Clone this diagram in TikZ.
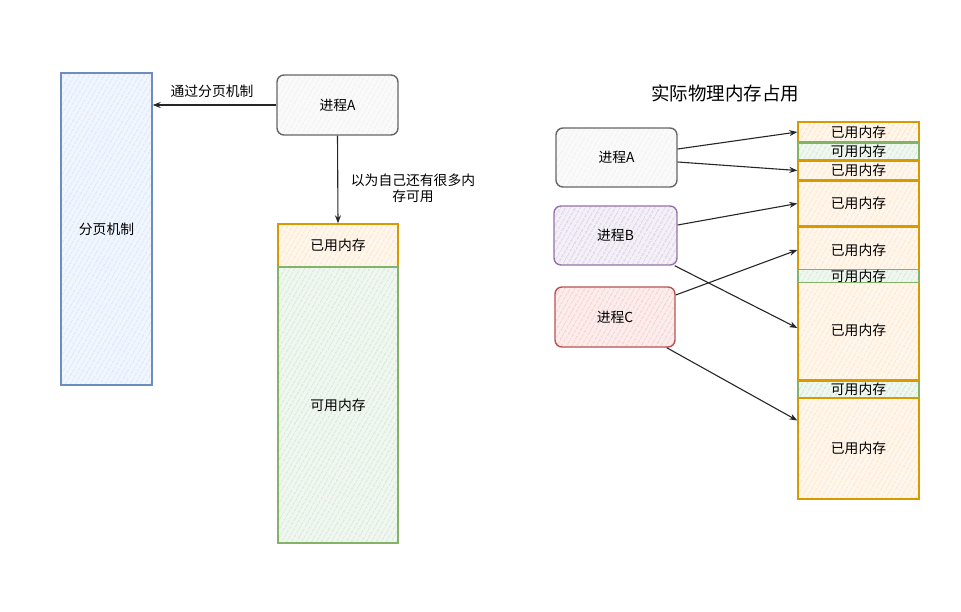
\documentclass[tikz,border=0pt]{standalone}
\usepackage{fontspec}
\setmainfont{Noto Sans CJK SC}
\usetikzlibrary{arrows.meta,patterns.meta}
\definecolor{grayF}{HTML}{EEEEEE}\definecolor{grayS}{HTML}{666666}
\definecolor{blueF}{HTML}{D0E2FB}\definecolor{blueS}{HTML}{6C8EBF}
\definecolor{orgF}{HTML}{FFE0C0}\definecolor{orgS}{HTML}{D79B00}
\definecolor{grnF}{HTML}{CDE4CC}\definecolor{grnS}{HTML}{82B366}
\definecolor{purF}{HTML}{DCCDE3}\definecolor{purS}{HTML}{9673A6}
\definecolor{redF}{HTML}{F6C4C2}\definecolor{redS}{HTML}{B85450}
\tikzset{
  x=1pt,y=-1pt,
  box/.style n args={4}{draw=#2,line width=1.4pt,minimum width=#3,minimum height=#4,inner sep=0pt,
    preaction={fill=#1!30},
    preaction={pattern={Lines[angle=60,distance=4pt,line width=1pt]},pattern color=#1},
    font=\fontsize{13.8}{15}\selectfont},
  proc/.style={rounded corners=7pt},
  arr/.style={-{Stealth[length=8pt,width=6pt]},line width=1.1pt,draw=black!85},
  lbl/.style={font=\fontsize{13.8}{16}\selectfont,align=center,inner sep=0pt},
}
\begin{document}
\begin{tikzpicture}
\path[use as bounding box] (0,0) rectangle (961,612);
% left
\node[box={blueF}{blueS}{91pt}{312pt}] (paging) at (106.5,229) {分页机制};
\node[box={grayF}{grayS}{121pt}{60pt},proc] (pA) at (337.5,105) {进程A};
\node[box={orgF}{orgS}{120pt}{43pt}] (used1) at (338,245.5) {已用内存};
\node[box={grnF}{grnS}{120pt}{276pt}] (free1) at (338,405) {可用内存};
\draw[arr] (pA.west) -- (paging.east |- pA.west);
\node[lbl] (l1) at (212,91) {通过分页机制};
\draw[arr] (pA.south) -- (used1.north);
\node[lbl] (l2) at (413,188) {以为自己还有很多内\\存可用};
% right
\node[lbl,font=\fontsize{18.5}{20}\selectfont] (title) at (725,93) {实际物理内存占用};
\node[box={grayF}{grayS}{121pt}{59pt},proc] (rA) at (616.5,157.5) {进程A};
\node[box={purF}{purS}{123pt}{59pt},proc] (rB) at (615.5,235.5) {进程B};
\node[box={redF}{redS}{120pt}{60pt},proc] (rC) at (615,317) {进程C};
\node[box={orgF}{orgS}{121pt}{20pt}] (s1) at (858.5,132) {已用内存};
\node[box={grnF}{grnS}{121pt}{17pt}] (s2) at (858.5,151.5) {可用内存};
\node[box={orgF}{orgS}{121pt}{19pt}] (s3) at (858.5,170.5) {已用内存};
\node[box={orgF}{orgS}{121pt}{45pt}] (s4) at (858.5,203.5) {已用内存};
\node[box={orgF}{orgS}{121pt}{46pt}] (s5) at (858.5,250) {已用内存};
\node[box={orgF}{orgS}{121pt}{100pt}] (s7) at (858.5,330) {已用内存};
\node[box={grnF}{grnS}{121pt}{9pt}] (s6) at (858.5,276) {可用内存};
\node[box={grnF}{grnS}{121pt}{16pt}] (s8) at (858.5,389.5) {可用内存};
\node[box={orgF}{orgS}{121pt}{101pt}] (s9) at (858.5,448.5) {已用内存};
\draw[arr] ([yshift=8.5pt]rA.east) -- (s1.west);
\draw[arr] ([yshift=-4.5pt]rA.east) -- (s3.west);
\draw[arr] ([yshift=10.5pt]rB.east) -- (s4.west);
\draw[arr] ([xshift=-3pt]rB.south east) -- ([yshift=2pt]s7.west);
\draw[arr] ([yshift=22pt]rC.east) -- (s5.west);
\draw[arr] ([xshift=-9pt]rC.south east) -- ([yshift=28pt]s9.west);
\end{tikzpicture}
\end{document}
